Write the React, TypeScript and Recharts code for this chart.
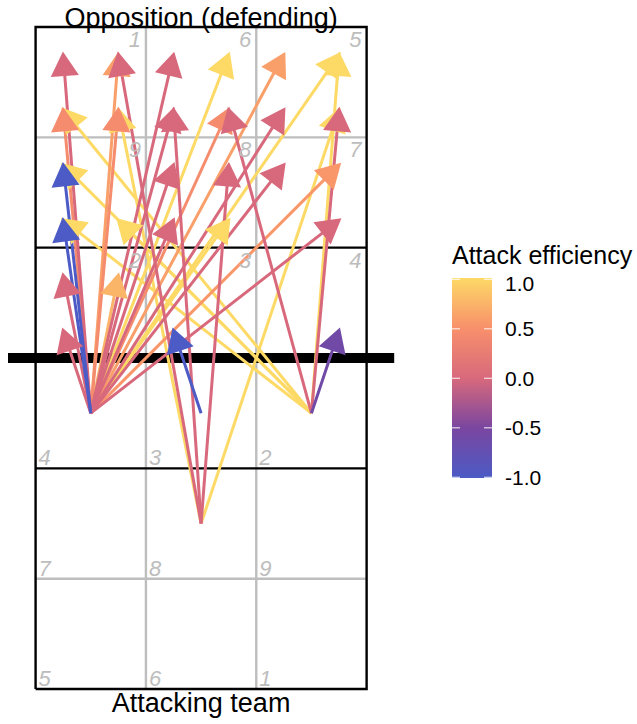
import React from "react";
import { ComposedChart, Line, Scatter, XAxis, YAxis } from "recharts";

// attack start (court units): zone 4 = (1,3), zone 3 = (2,3), zone 2 = (3,3), pipe = (2,2)
const attackFromX = [
  1, 1, 1, 1, 1, 1, 1, 1, 1, 1, 1, 1, 1, 1, 1, 1, 1, 1, 1, 1, 1, 1,
  2, 2, 2, 2, 2,
  3, 3, 3, 3, 3, 3, 3, 3,
  2,
];
const attackFromY = [
  3, 3, 3, 3, 3, 3, 3, 3, 3, 3, 3, 3, 3, 3, 3, 3, 3, 3, 3, 3, 3, 3,
  2, 2, 2, 2, 2,
  3, 3, 3, 3, 3, 3, 3, 3,
  3,
];
// attack end (sub-zone centres on the opposition side)
const attackToX = [
  0.75, 1.25, 1.75, 2.25, 2.75, 3.25, 0.75, 1.25, 1.75, 2.25, 2.75, 0.75, 1.75, 2.75, 3.25, 0.75, 1.75, 2.25, 3.25, 0.75, 1.25, 0.75,
  1.25, 1.75, 2.25, 1.25, 3.25,
  3.25, 3.25, 2.25, 0.75, 0.75, 0.75, 1.25, 3.25,
  1.75,
];
const attackToY = [
  6.25, 6.25, 6.25, 6.25, 6.25, 6.25, 5.75, 5.75, 5.75, 5.75, 5.75, 5.25, 5.25, 5.25, 5.25, 4.75, 4.75, 4.75, 4.75, 4.25, 4.25, 3.75,
  6.25, 5.75, 5.25, 5.75, 5.75,
  6.25, 5.75, 5.75, 5.75, 5.25, 4.75, 4.75, 3.75,
  3.75,
];
const efficiency = [
  0, 0.6, 0, 1, 0.6, 1, 0.45, 0.45, 0, 0.45, 0, -1, 0, 0, 0.55, -1, 0, 1, 0, 0, 0.75, 0,
  0, 0, 0, 1, 1,
  1, 0, 0, 1, 1, 1, 1, -0.6,
  -1,
];

// court geometry
const courtX = [0.5, 3.5];
const courtY = [0.5, 6.5];
const greyXs = [1.5, 2.5];
const greyYs = [1.5, 5.5];
const attackLineYs = [2.5, 4.5];
const netY = 3.5;
const netX = [0.25, 3.75];

const ownZones = ["4", "3", "2", "7", "8", "9", "5", "6", "1"];
const oppZones = ["1", "6", "5", "9", "8", "7", "2", "3", "4"];

const legendTicks = [1.0, 0.5, 0.0, -0.5, -1.0];
const paletteAt = [-1, -0.5, 0, 0.5, 1];
const paletteColors = ["#4C5BC5", "#7A46A0", "#D8697C", "#F8906B", "#FDD966"];

const FONT = "'Liberation Sans', Arial, Helvetica, sans-serif";

function hexToRgb(h: string) {
  const n = parseInt(h.slice(1), 16);
  return [(n >> 16) & 255, (n >> 8) & 255, n & 255];
}

function effColor(v: number): string {
  for (let i = 0; i < paletteAt.length - 1; i++) {
    if (v <= paletteAt[i + 1]) {
      const t = (v - paletteAt[i]) / (paletteAt[i + 1] - paletteAt[i]);
      const a = hexToRgb(paletteColors[i]);
      const b = hexToRgb(paletteColors[i + 1]);
      const c = a.map((x, k) => Math.round(x + (b[k] - x) * t));
      return `rgb(${c[0]},${c[1]},${c[2]})`;
    }
  }
  return paletteColors[paletteColors.length - 1];
}

const arrows = attackFromX
  .map((fx, i) => ({
    id: i,
    fx,
    fy: attackFromY[i],
    tx: attackToX[i],
    ty: attackToY[i],
    eff: efficiency[i],
  }))
  .sort((a, b) => b.eff - a.eff);

const seg = (x1: number, y1: number, x2: number, y2: number) => [
  { x: x1, y: y1 },
  { x: x2, y: y2 },
];

const zoneLabels = [
  ...ownZones.map((z, i) => ({ x: courtX[0] + (i % 3), y: 2.5 - Math.floor(i / 3), text: z, side: "own" })),
  ...oppZones.map((z, i) => ({ x: 1.5 + (i % 3), y: courtY[1] - Math.floor(i / 3), text: z, side: "opp" })),
];

const titles = [
  { x: 2, y: courtY[1], text: "Opposition (defending)", side: "top" },
  { x: 2, y: courtY[0], text: "Attacking team", side: "bottom" },
];

function ZoneLabel(p: any) {
  const { cx, cy, payload } = p;
  const opp = payload.side === "opp";
  return (
    <text
      x={opp ? cx - 5 : cx + 3}
      y={opp ? cy + 20 : cy - 3}
      textAnchor={opp ? "end" : "start"}
      fontSize={22}
      fontStyle="italic"
      fill="#BDBDBD"
      fontFamily={FONT}
    >
      {payload.text}
    </text>
  );
}

function TitleLabel(p: any) {
  const { cx, cy, payload } = p;
  return (
    <text
      x={cx}
      y={payload.side === "top" ? cy + 0.5 : cy + 23}
      textAnchor="middle"
      fontSize={27}
      fill="#000"
      fontFamily={FONT}
    >
      {payload.text}
    </text>
  );
}

function arrowHead(p: any, ang: number, col: string) {
  const { cx, cy, index } = p;
  if (index !== 1) return <g key={`h-${index}`} />;
  const L = 20;
  const W = 11.5;
  const dx = Math.cos(ang);
  const dy = Math.sin(ang);
  const bx = cx - dx * L;
  const by = cy - dy * L;
  const pts = [
    [cx, cy],
    [bx - dy * W, by + dx * W],
    [bx + dy * W, by - dx * W],
  ]
    .map((q) => q.join(","))
    .join(" ");
  return (
    <polygon
      key={`h-${index}`}
      points={pts}
      fill={col}
      stroke={col}
      strokeWidth={3}
      strokeLinejoin="miter"
    />
  );
}

function ColourLegend() {
  const top = 278;
  const bottom = 478;
  const tickY = (v: number) => 279.3 + (1 - v) * 99;
  return (
    <svg
      width={637}
      height={724}
      style={{ position: "absolute", left: 0, top: 0, pointerEvents: "none" }}
    >
      <defs>
        <linearGradient id="effGrad" x1="0" y1="0" x2="0" y2="1">
          {paletteAt
            .slice()
            .reverse()
            .map((v, i) => (
              <stop key={i} offset={`${i * 25}%`} stopColor={effColor(v)} />
            ))}
        </linearGradient>
      </defs>
      <text x={452} y={264} fontSize={25} fontFamily={FONT} fill="#000">
        Attack efficiency
      </text>
      <rect x={452} y={top} width={40} height={bottom - top} fill="url(#effGrad)" />
      {legendTicks.map((v) => (
        <g key={v}>
          <line x1={452} x2={460} y1={tickY(v)} y2={tickY(v)} stroke="#fff" strokeOpacity={0.8} strokeWidth={1.2} />
          <line x1={484} x2={492} y1={tickY(v)} y2={tickY(v)} stroke="#fff" strokeOpacity={0.8} strokeWidth={1.2} />
          <text
            x={505}
            y={v === 1 ? 283 : tickY(v)}
            dominantBaseline="central"
            fontSize={21}
            fontFamily={FONT}
            fill="#000"
          >
            {v.toFixed(1)}
          </text>
        </g>
      ))}
    </svg>
  );
}

export default function App() {
  const grey = "#BEBEBE";
  return (
    <div style={{ position: "absolute", left: 0, top: 0, width: 637, height: 724, background: "#fff" }}>
      <ComposedChart
        width={637}
        height={724}
        margin={{ top: 4.93, right: 242.8, bottom: 0.77, left: 8 }}
      >
        <XAxis type="number" dataKey="x" domain={[0.25, 3.75]} hide />
        <YAxis type="number" dataKey="y" domain={[0.19, 6.7]} hide />

        {greyXs.map((gx) => (
          <Line key={`gx-${gx}`} data={seg(gx, courtY[0], gx, courtY[1])} dataKey="y" stroke={grey} strokeWidth={2.4} dot={false} activeDot={false} isAnimationActive={false} />
        ))}
        {greyYs.map((gy) => (
          <Line key={`gy-${gy}`} data={seg(courtX[0], gy, courtX[1], gy)} dataKey="y" stroke={grey} strokeWidth={2.4} dot={false} activeDot={false} isAnimationActive={false} />
        ))}
        {attackLineYs.map((ay) => (
          <Line key={`al-${ay}`} data={seg(courtX[0], ay, courtX[1], ay)} dataKey="y" stroke="#000" strokeWidth={2.4} dot={false} activeDot={false} isAnimationActive={false} />
        ))}
        <Line
          data={[
            { x: courtX[0], y: courtY[0] },
            { x: courtX[1], y: courtY[0] },
            { x: courtX[1], y: courtY[1] },
            { x: courtX[0], y: courtY[1] },
            { x: courtX[0], y: courtY[0] },
          ]}
          dataKey="y"
          stroke="#000"
          strokeWidth={2.4}
          dot={false}
          activeDot={false}
          isAnimationActive={false}
        />
        <Line data={seg(netX[0], netY, netX[1], netY)} dataKey="y" stroke="#000" strokeWidth={10} dot={false} activeDot={false} isAnimationActive={false} />

        <Scatter data={zoneLabels} dataKey="y" shape={(p: any) => <ZoneLabel {...p} />} isAnimationActive={false} />
        <Scatter data={titles} dataKey="y" shape={(p: any) => <TitleLabel {...p} />} isAnimationActive={false} />

        {arrows.map((a) => {
          const col = effColor(a.eff);
          const ang = Math.atan2(-(a.ty - a.fy), a.tx - a.fx);
          return (
            <Line
              key={`arrow-${a.id}`}
              data={seg(a.fx, a.fy, a.tx, a.ty)}
              dataKey="y"
              stroke={col}
              strokeWidth={3}
              dot={(p: any) => arrowHead(p, ang, col)}
              activeDot={false}
              isAnimationActive={false}
            />
          );
        })}
      </ComposedChart>
      <ColourLegend />
    </div>
  );
}
